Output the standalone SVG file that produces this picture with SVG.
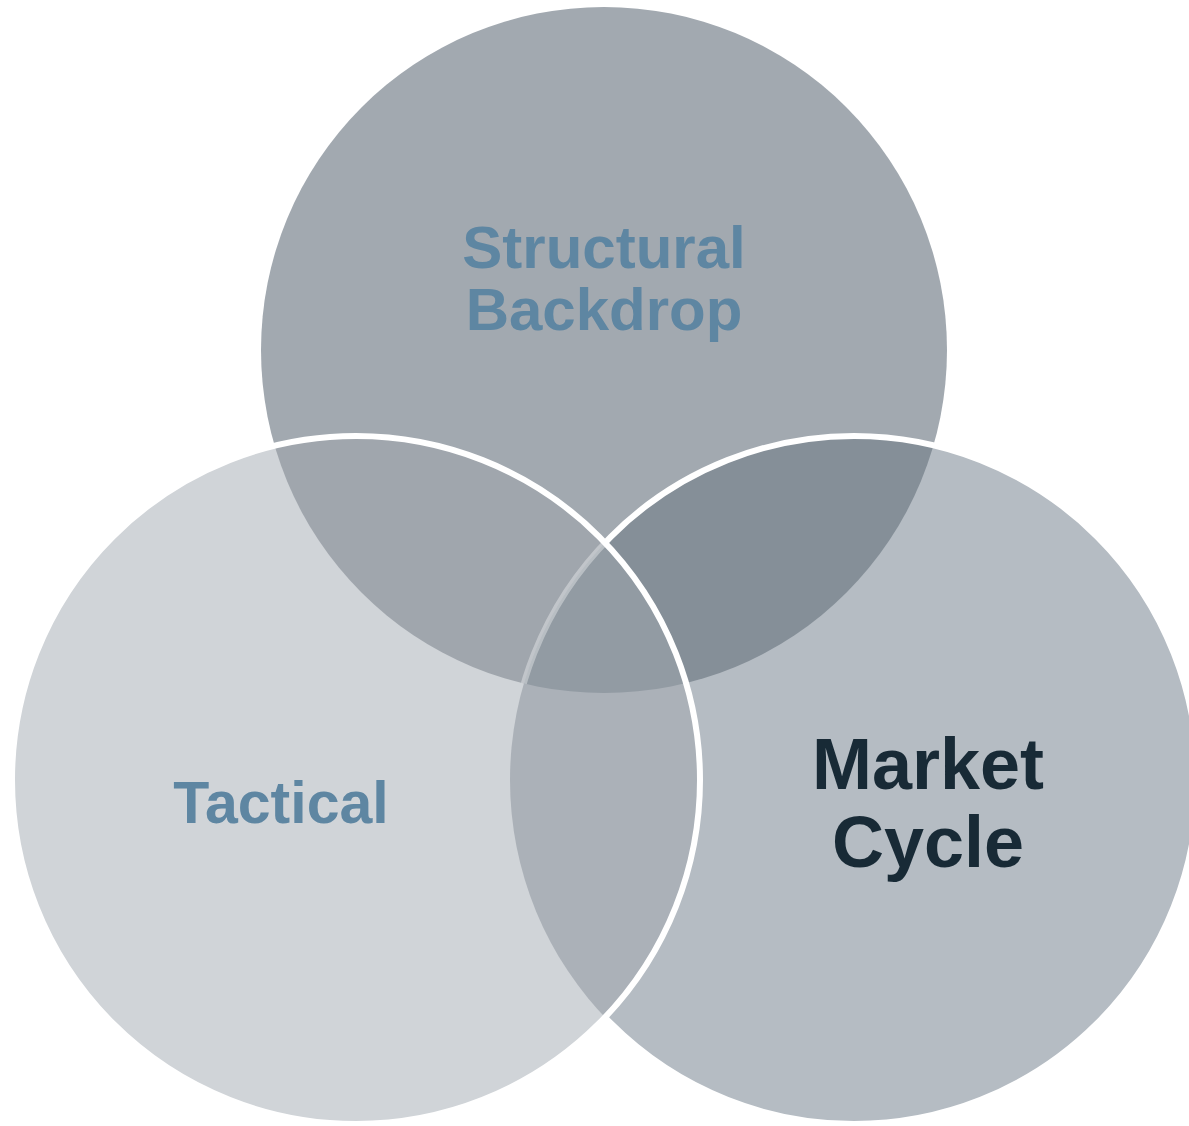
<svg xmlns="http://www.w3.org/2000/svg" width="1189" height="1126" viewBox="0 0 1189 1126">
<style>
.lbl{font-family:"Liberation Sans",Arial,sans-serif;font-weight:bold;text-anchor:middle}
.blue{fill:#5e86a2}
.dark{fill:#182a36}
.ring{fill:none;stroke:#ffffff;stroke-width:6}
</style>
<defs>
<clipPath id="cT"><circle cx="604" cy="350" r="343"/></clipPath>
<clipPath id="cL"><circle cx="356" cy="780" r="344"/></clipPath>
<clipPath id="cR"><circle cx="854" cy="780" r="344"/></clipPath>
<mask id="mR" maskUnits="userSpaceOnUse" x="0" y="0" width="1189" height="1126">
<rect x="0" y="0" width="1189" height="1126" fill="#ffffff"/>
<circle cx="356" cy="780" r="344" fill="#000000"/>
<g clip-path="url(#cL)"><circle cx="604" cy="350" r="343" fill="#5a5a5a"/></g>
</mask>
</defs>
<rect x="0" y="0" width="1189" height="1126" fill="#ffffff"/>
<g id="structural">
<circle cx="604" cy="350" r="343" fill="#a2a9b0"/>
</g>
<g id="market-cycle">
<circle cx="854" cy="780" r="344" fill="#b5bcc3"/>
</g>
<g id="tactical">
<circle cx="356" cy="780" r="344" fill="#d0d4d8"/>
</g>
<g id="overlaps">
<g clip-path="url(#cR)"><circle cx="604" cy="350" r="343" fill="#858f98"/></g>
<g clip-path="url(#cL)"><circle cx="604" cy="350" r="343" fill="#a0a6ad"/></g>
<g clip-path="url(#cR)"><circle cx="356" cy="780" r="344" fill="#abb1b8"/></g>
<g clip-path="url(#cR)"><g clip-path="url(#cL)"><circle cx="604" cy="350" r="343" fill="#929ba3"/></g></g>
</g>
<g id="connectors">
<circle class="ring" cx="854" cy="780" r="344" mask="url(#mR)"/>
<circle class="ring" cx="356" cy="780" r="344"/>
</g>
<g id="labels">
<text class="lbl blue" x="604" y="268" font-size="60">Structural</text>
<text class="lbl blue" x="604" y="330" font-size="60">Backdrop</text>
<text class="lbl blue" x="281" y="823" font-size="59">Tactical</text>
<text class="lbl dark" x="928" y="789" font-size="72">Market</text>
<text class="lbl dark" x="928" y="867" font-size="72">Cycle</text>
</g>
</svg>
